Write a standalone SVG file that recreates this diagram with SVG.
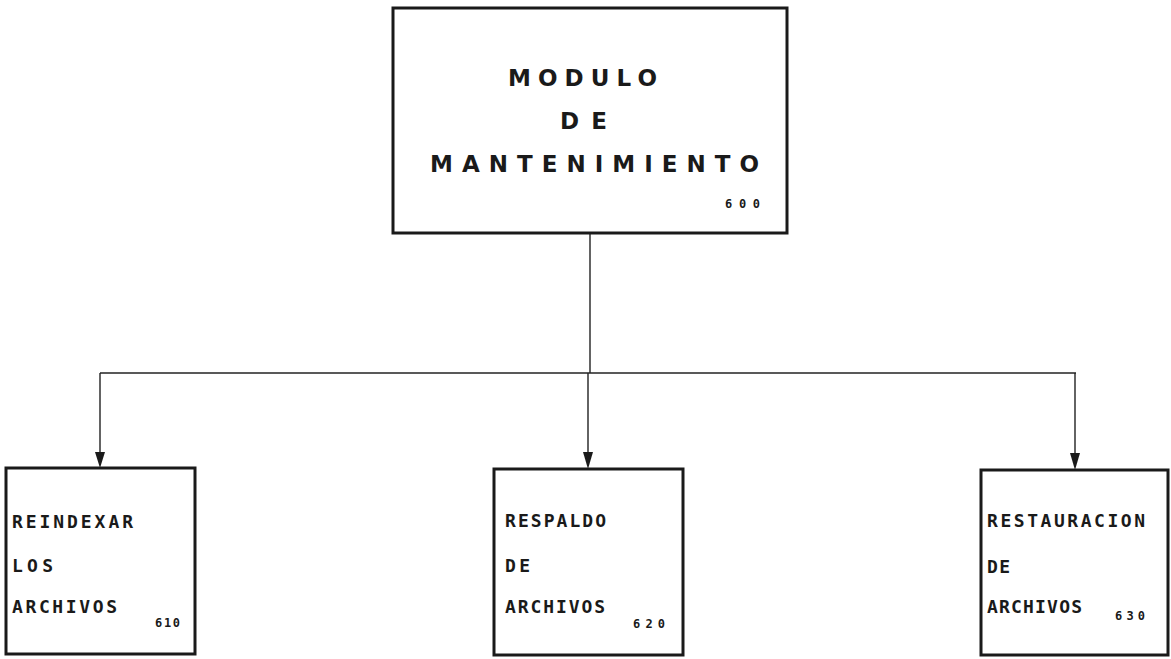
<svg xmlns="http://www.w3.org/2000/svg" width="1171" height="659" viewBox="0 0 1171 659">
<style>
.box{fill:#fff;stroke:#1a1a1a;stroke-width:3}
.ln{fill:none;stroke:#222;stroke-width:1.4}
.big{font-family:"DejaVu Sans","Liberation Sans",sans-serif;font-weight:bold;font-size:23px;fill:#1a1a1a}
.lbl{font-family:"DejaVu Sans Mono","Liberation Mono",monospace;font-weight:bold;font-size:18px;fill:#1a1a1a}
.num{font-family:"DejaVu Sans Mono",monospace;font-weight:bold;font-size:12px;fill:#1a1a1a}
</style>
<rect width="1171" height="659" fill="#fff"/>
<g id="connectors">
<line class="ln" x1="590" y1="233" x2="590" y2="373"/>
<line class="ln" x1="100" y1="373" x2="1076" y2="373"/>
<path class="ln" d="M100,373 V453"/><path d="M95,452 L105,452 L100,468 Z" fill="#1a1a1a"/>
<path class="ln" d="M588,373 V453"/><path d="M583,452 L593,452 L588,469 Z" fill="#1a1a1a"/>
<path class="ln" d="M1075,373 V453"/><path d="M1070,453 L1080,453 L1075,470 Z" fill="#1a1a1a"/>
</g>
<g id="n600">
<rect class="box" x="393" y="8" width="394" height="225"/>
<text class="big" x="508" y="86" textLength="149" lengthAdjust="spacing">MODULO</text>
<text class="big" x="560" y="129" textLength="47" lengthAdjust="spacing">DE</text>
<text class="big" x="430" y="172" textLength="329" lengthAdjust="spacing">MANTENIMIENTO</text>
<text class="num" x="725" y="208" textLength="35" lengthAdjust="spacing">600</text>
</g>
<g id="n610">
<rect class="box" x="6" y="468" width="189" height="186"/>
<text class="lbl" x="12" y="528" textLength="121" lengthAdjust="spacing">REINDEXAR</text>
<text class="lbl" x="12" y="572" textLength="41" lengthAdjust="spacing">LOS</text>
<text class="lbl" x="12" y="613" textLength="105" lengthAdjust="spacing">ARCHIVOS</text>
<text class="num" x="155" y="627" textLength="25" lengthAdjust="spacing">610</text>
</g>
<g id="n620">
<rect class="box" x="494" y="469" width="189" height="186"/>
<text class="lbl" x="505" y="527" textLength="101" lengthAdjust="spacing">RESPALDO</text>
<text class="lbl" x="505" y="572" textLength="25" lengthAdjust="spacing">DE</text>
<text class="lbl" x="505" y="613" textLength="100" lengthAdjust="spacing">ARCHIVOS</text>
<text class="num" x="633" y="628" textLength="32" lengthAdjust="spacing">620</text>
</g>
<g id="n630">
<rect class="box" x="981" y="470" width="187" height="185"/>
<text class="lbl" x="987" y="527" textLength="158" lengthAdjust="spacing">RESTAURACION</text>
<text class="lbl" x="987" y="573" textLength="23" lengthAdjust="spacing">DE</text>
<text class="lbl" x="987" y="613" textLength="95" lengthAdjust="spacing">ARCHIVOS</text>
<text class="num" x="1115" y="620" textLength="30" lengthAdjust="spacing">630</text>
</g>
</svg>
